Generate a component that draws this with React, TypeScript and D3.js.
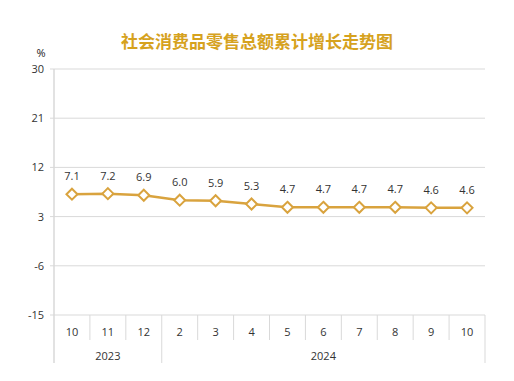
import React from "react";
import * as d3 from "d3";

const months = ["10", "11", "12", "2", "3", "4", "5", "6", "7", "8", "9", "10"];
const years = ["2023", "2023", "2023", "2024", "2024", "2024", "2024", "2024", "2024", "2024", "2024", "2024"];
const values = [7.1, 7.2, 6.9, 6.0, 5.9, 5.3, 4.7, 4.7, 4.7, 4.7, 4.6, 4.6];
const yTicks = [-15, -6, 3, 12, 21, 30];
const title = "社会消费品零售总额累计增长走势图";

const W = 514, H = 381;
const left = 54, right = 485, top = 69, bottom = 315;
const gold = "#D9A33E";
const font = "'Open Sans', 'Noto Sans', sans-serif";

export default function App() {
  const x = d3.scaleBand<number>().domain(d3.range(months.length)).range([left, right]);
  const y = d3.scaleLinear().domain([-15, 30]).range([bottom, top]);
  const line = d3.line<number>().x((_, i) => x(i)! + x.bandwidth() / 2).y((d) => y(d));

  // year groups
  const groups: { year: string; start: number; end: number }[] = [];
  years.forEach((yr, i) => {
    const g = groups[groups.length - 1];
    if (g && g.year === yr) g.end = i;
    else groups.push({ year: yr, start: i, end: i });
  });

  const bw = x.bandwidth();
  const diamond = (cx: number, cy: number, r: number) =>
    `M${cx},${cy - r}L${cx + r},${cy}L${cx},${cy + r}L${cx - r},${cy}Z`;

  return (
    <svg width={W} height={H} style={{ position: "absolute", left: 0, top: 0, background: "#fff" }}>
      <text x={257} y={48} textAnchor="middle" fontFamily="'Noto Sans CJK SC', sans-serif" fontWeight="bold" fontSize={17} fill="#D6A21E">
        {title}
      </text>
      <text x={41} y={57} textAnchor="middle" fontFamily={font} fontSize={11} fill="#222">%</text>
      {yTicks.map((t) => (
        <g key={t}>
          <line x1={left} x2={right} y1={y(t)} y2={y(t)} stroke="#d9d9d9" strokeWidth={1} />
          <line x1={50} x2={left} y1={y(t)} y2={y(t)} stroke="#d9d9d9" strokeWidth={1} />
          <text x={44} y={y(t) + 4} textAnchor="end" fontFamily={font} fontSize={11} fill="#333">{t}</text>
        </g>
      ))}
      {/* axis lines */}
      <line x1={left} x2={left} y1={top} y2={363} stroke="#d9d9d9" strokeWidth={1.5} />
      <line x1={right} x2={right} y1={bottom} y2={363} stroke="#d9d9d9" strokeWidth={1} />
      {months.map((m, i) => (
        <g key={i}>
          {i > 0 && (
            <line
              x1={x(i)!}
              x2={x(i)!}
              y1={bottom}
              y2={groups.some((g) => g.start === i) ? 363 : 340}
              stroke="#d9d9d9"
              strokeWidth={1}
            />
          )}
          <text x={x(i)! + bw / 2} y={336} textAnchor="middle" fontFamily={font} fontSize={11} fill="#333">{m}</text>
        </g>
      ))}
      {groups.map((g) => (
        <text
          key={g.year}
          x={(x(g.start)! + x(g.end)! + bw) / 2}
          y={360}
          textAnchor="middle"
          fontFamily={font}
          fontSize={11}
          fill="#333"
        >
          {g.year}
        </text>
      ))}
      <path d={line(values) || ""} fill="none" stroke={gold} strokeWidth={2.5} />
      {values.map((v, i) => {
        const cx = x(i)! + bw / 2;
        const cy = y(v);
        return (
          <g key={i}>
            <path d={diamond(cx, cy, 5.5)} fill="#fff" stroke={gold} strokeWidth={2} />
            <text x={cx} y={cy - 14} textAnchor="middle" fontFamily={font} fontSize={11} fill="#333">
              {v.toFixed(1)}
            </text>
          </g>
        );
      })}
    </svg>
  );
}
